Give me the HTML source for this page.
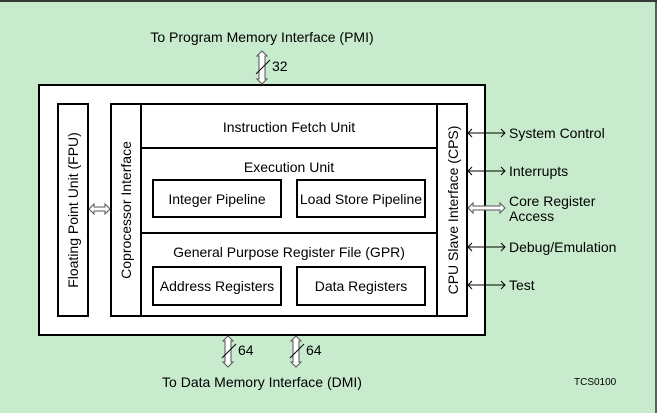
<!DOCTYPE html>
<html><head><style>
body{margin:0;width:657px;height:413px;overflow:hidden;background:#fff}
svg text{font-family:"Liberation Sans",Arial,sans-serif;fill:#000}
</style></head><body>
<svg width="657" height="413" viewBox="0 0 657 413" xmlns="http://www.w3.org/2000/svg">
<rect x="0" y="0" width="657" height="413" fill="#c8ebcd"/>
<line x1="0" y1="1" x2="657" y2="1" stroke="#000" stroke-width="1.5"/>
<line x1="656" y1="0" x2="656" y2="413" stroke="#333" stroke-width="1.5"/>
<g fill="#fff" stroke="#000" stroke-width="2">
<rect x="39" y="85" width="446" height="250"/>
<rect x="58" y="104" width="30" height="212"/>
<rect x="111" y="104" width="30" height="212"/>
<rect x="141" y="104" width="296" height="212"/>
<rect x="437" y="104" width="30" height="212"/>
<line x1="141" y1="148" x2="437" y2="148"/>
<line x1="141" y1="233" x2="437" y2="233"/>
<rect x="153" y="180" width="128" height="37"/>
<rect x="297" y="180" width="128" height="37"/>
<rect x="153" y="267" width="128" height="38"/>
<rect x="297" y="267" width="128" height="38"/>
</g>
<g font-size="14" text-anchor="middle">
<text x="289" y="132">Instruction Fetch Unit</text>
<text x="289" y="172">Execution Unit</text>
<text x="217" y="204">Integer Pipeline</text>
<text x="361" y="204">Load Store Pipeline</text>
<text x="289" y="257">General Purpose Register File (GPR)</text>
<text x="217" y="291">Address Registers</text>
<text x="361" y="291">Data Registers</text>
<text transform="translate(78,210) rotate(-90)">Floating Point Unit (FPU)</text>
<text transform="translate(131,210) rotate(-90)">Coprocessor Interface</text>
<text transform="translate(458,210) rotate(-90)">CPU Slave Interface (CPS)</text>
<text x="262" y="42">To Program Memory Interface (PMI)</text>
<text x="262" y="387">To Data Memory Interface (DMI)</text>
</g>
<g font-size="14">
<text x="509" y="138">System Control</text>
<text x="509" y="176">Interrupts</text>
<text x="509" y="206">Core Register</text>
<text x="509" y="221">Access</text>
<text x="509" y="252">Debug/Emulation</text>
<text x="509" y="290">Test</text>
<text x="272" y="71">32</text>
<text x="238" y="355">64</text>
<text x="306" y="355">64</text>
</g>
<text x="574" y="385" font-size="10">TCS0100</text>
<g stroke="#000" stroke-width="1" fill="none">
<g id="a"><line x1="468" y1="133" x2="505" y2="133"/><polyline points="472,129 468,133 472,137"/><polyline points="501,129 505,133 501,137"/></g>
<use href="#a" y="38"/><use href="#a" y="114"/><use href="#a" y="152"/>
</g>
<g fill="#fff" stroke="#555" stroke-width="1">
<polygon points="468,208 473,203 473,206 500,206 500,203 505,208 500,213 500,210 473,210 473,213"/>
<polygon points="89,209 94,204 94,207 105,207 105,204 110,209 105,214 105,211 94,211 94,214"/>
<polygon points="262,51 267,56 265,56 265,79 267,79 262,84 257,79 259,79 259,56 257,56"/>
<polygon points="228,336 233,341 231,341 231,362 233,362 228,367 223,362 225,362 225,341 223,341"/>
<polygon points="296,336 301,341 299,341 299,362 301,362 296,367 291,362 293,362 293,341 291,341"/>
</g>
<g stroke="#000" stroke-width="1">
<line x1="256" y1="74" x2="270" y2="60"/>
<line x1="222" y1="358" x2="236" y2="344"/>
<line x1="290" y1="358" x2="304" y2="344"/>
</g>
</svg>
</body></html>
